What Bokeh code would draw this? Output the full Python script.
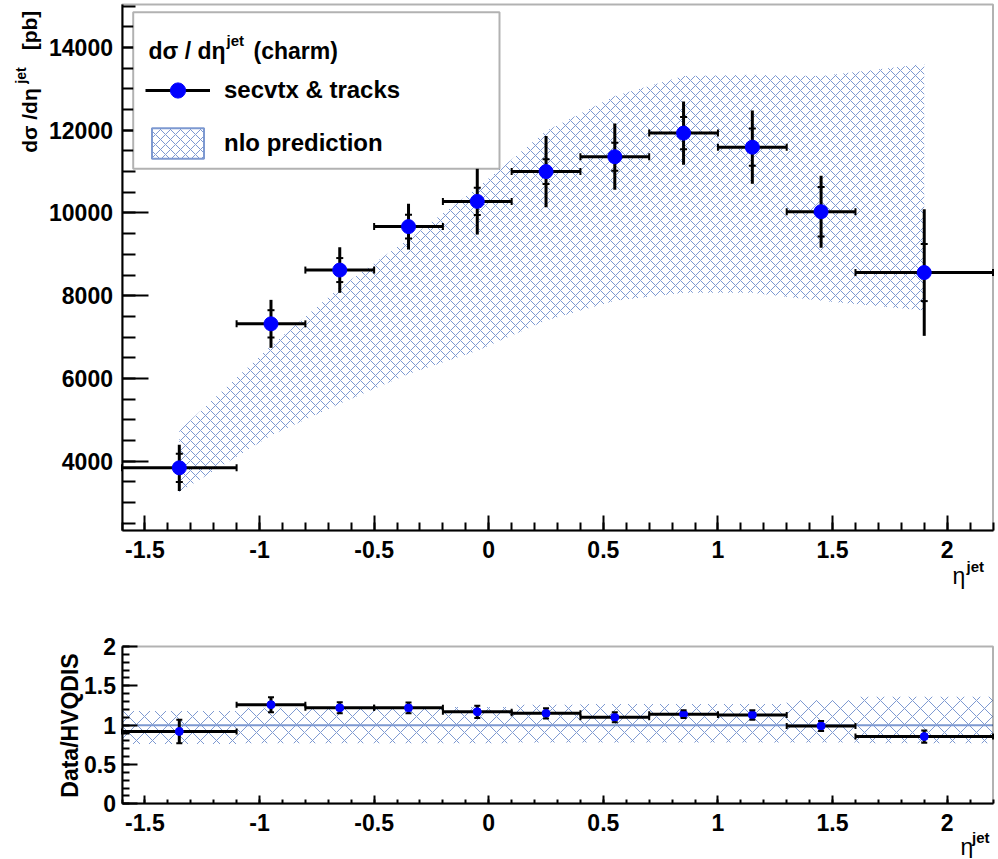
import math
from bokeh.plotting import figure
from bokeh.models import (Range1d, FixedTicker, CustomJSTickFormatter, Label, BoxAnnotation,
                          Legend, LegendItem, Whisker, TeeHead, ColumnDataSource)
from bokeh.layouts import column
from bokeh.embed import file_html
from bokeh.resources import INLINE

# ---------------- data ----------------
eta = [-1.35, -0.95, -0.65, -0.35, -0.05, 0.25, 0.55, 0.85, 1.15, 1.45, 1.9]
bin_lo = [-1.6, -1.1, -0.8, -0.5, -0.2, 0.1, 0.4, 0.7, 1.0, 1.3, 1.6]
bin_hi = [-1.1, -0.8, -0.5, -0.2, 0.1, 0.4, 0.7, 1.0, 1.3, 1.6, 2.2]
xsec = [3840, 7320, 8620, 9670, 10280, 11000, 11360, 11930, 11590, 10030, 8560]
err_tot = [560, 580, 550, 550, 800, 860, 800, 765, 885, 870, 1530]
err_stat = [340, 330, 290, 290, 330, 300, 340, 390, 450, 600, 690]
nlo_hi = [4740, 6790, 8200, 9370, 10610, 11980, 12830, 13310, 13340, 13310, 13600]
nlo_lo = [3250, 4620, 5390, 6110, 6670, 7400, 7880, 8070, 8070, 7880, 7640]

ratio = [0.92, 1.26, 1.22, 1.22, 1.17, 1.15, 1.10, 1.14, 1.13, 0.99, 0.855]
ratio_err = [0.15, 0.095, 0.07, 0.068, 0.078, 0.064, 0.064, 0.05, 0.06, 0.064, 0.078]
rband_hi = [1.18, 1.22, 1.22, 1.22, 1.23, 1.26, 1.27, 1.27, 1.27, 1.32, 1.36]
rband_lo = [0.76, 0.77, 0.77, 0.77, 0.77, 0.78, 0.78, 0.78, 0.78, 0.78, 0.77]
ratio_ref = 1.0

x_ticks = [-1.5, -1, -0.5, 0, 0.5, 1, 1.5, 2]
y_ticks = [4000, 6000, 8000, 10000, 12000, 14000]
r_ticks = [0, 0.5, 1, 1.5, 2]

# ---------------- geometry / style ----------------
FONT = "Liberation Sans"
BAND = "#7d99d1"
BLUE = "#0000ff"

W = 998
H1, H2 = 620, 238
XMIN, XMAX = -1.6, 2.2
FL, FR = 121.5, 992.5                  # ROOT frame left/right (page px)
Y1MIN, Y1MAX = 2325, 15039             # upper ROOT frame y range
U_TOP, U_BOT = 4, 530
RMIN, RMAX = 0, 2
L_TOP, L_BOT = 646, 803.3


def ux(px):
    return XMIN + (px - FL) * (XMAX - XMIN) / (FR - FL)


def uy(py):
    return Y1MAX - (py - U_TOP) * (Y1MAX - Y1MIN) / (U_BOT - U_TOP)


def ly(py):
    return RMAX - (py - L_TOP) * (RMAX - RMIN) / (L_BOT - L_TOP)


fmt = CustomJSTickFormatter(code="return String(Math.round(tick*1000)/1000);")


def style_axis(ax, ticks, minor, size, tin, min_in, standoff, loc, bounds):
    ax.fixed_location = loc
    ax.bounds = bounds
    ax.ticker = FixedTicker(ticks=ticks, minor_ticks=minor)
    ax.formatter = fmt
    ax.axis_line_width = 2
    ax.axis_line_color = "black"
    ax.major_tick_line_width = 2
    ax.minor_tick_line_width = 2
    ax.major_tick_in = tin
    ax.major_tick_out = 0
    ax.minor_tick_in = min_in
    ax.minor_tick_out = 0
    ax.major_label_text_font = FONT
    ax.major_label_text_font_style = "bold"
    ax.major_label_text_font_size = size
    ax.major_label_text_color = "black"
    ax.major_label_standoff = standoff


def add_label(p, x, y, text, size, bold=True, angle=0.0, align="left", baseline="alphabetic"):
    p.add_layout(Label(x=x, y=y, text=text, text_font=FONT,
                       text_font_style="bold" if bold else "normal",
                       text_font_size=size, angle=angle, text_align=align,
                       text_baseline=baseline, text_color="black"))


def make_fig(h, yr):
    p = figure(width=W, height=h, x_range=Range1d(ux(0), ux(W)), y_range=yr,
               output_backend="svg", toolbar_location=None, title=None,
               min_border=0, min_border_left=0, min_border_right=0,
               min_border_top=0, min_border_bottom=0)
    p.xgrid.visible = False
    p.ygrid.visible = False
    p.outline_line_color = None
    p.background_fill_color = "white"
    p.border_fill_color = "white"
    return p


x_minor = [round(-1.6 + 0.1 * i, 2) for i in range(39)]
y_minor = [2500 + 500 * i for i in range(26)]
r_minor = [round(0.1 * i, 2) for i in range(21)]

# ---------------- upper panel ----------------
p1 = make_fig(H1, Range1d(uy(H1), uy(0)))
style_axis(p1.xaxis[0], x_ticks, x_minor, "23px", 15, 8, 10, Y1MIN, (XMIN, XMAX))
style_axis(p1.yaxis[0], y_ticks, y_minor, "23px", 26, 13, 9, XMIN, (Y1MIN, Y1MAX))

src = ColumnDataSource(dict(
    eta=eta, lo=bin_lo, hi=bin_hi, y=xsec,
    ylo=[v - e for v, e in zip(xsec, err_tot)], yhi=[v + e for v, e in zip(xsec, err_tot)],
    slo=[v - e for v, e in zip(xsec, err_stat)], shi=[v + e for v, e in zip(xsec, err_stat)],
    nlo_lo=nlo_lo, nlo_hi=nlo_hi))

p1.varea(x="eta", y1="nlo_lo", y2="nlo_hi", source=src, fill_alpha=0,
         hatch_pattern="x", hatch_color=BAND, hatch_scale=10, hatch_weight=1)
hbar = p1.segment(x0="lo", x1="hi", y0="y", y1="y", source=src, line_color="black", line_width=3)
p1.segment(x0="eta", x1="eta", y0="ylo", y1="yhi", source=src, line_color="black", line_width=3)
p1.add_layout(Whisker(source=src, base="eta", lower="slo", upper="shi", dimension="height",
                      line_alpha=0, level="glyph",
                      upper_head=TeeHead(size=7, line_width=2, line_color="black"),
                      lower_head=TeeHead(size=7, line_width=2, line_color="black")))
p1.add_layout(Whisker(source=src, base="y", lower="lo", upper="hi", dimension="width",
                      line_alpha=0, level="glyph",
                      upper_head=TeeHead(size=7, line_width=2, line_color="black"),
                      lower_head=TeeHead(size=7, line_width=2, line_color="black")))
dots = p1.scatter(x="eta", y="y", source=src, size=14, fill_color=BLUE, line_color=BLUE)

# legend sample for the band (hidden renderer, only drawn in the legend)
band_leg = p1.quad(left="lo", right="hi", top="nlo_hi", bottom="nlo_lo", source=src,
                   fill_alpha=0, hatch_pattern="x", hatch_color=BAND, hatch_scale=10,
                   hatch_weight=1, line_color=BAND, line_width=2)
band_leg.visible = False

# ROOT frame box
p1.add_layout(BoxAnnotation(left=XMIN, right=XMAX, bottom=Y1MIN, top=Y1MAX,
                            fill_alpha=0, line_color="black", line_width=2, level="annotation"))
# legend box
p1.add_layout(BoxAnnotation(left=ux(132.7), right=ux(499), top=uy(11.7), bottom=uy(168.3),
                            fill_color="white", fill_alpha=1, line_color="black", line_width=2,
                            level="annotation"))
leg = Legend(items=[LegendItem(label="secvtx & tracks", renderers=[hbar, dots]),
                    LegendItem(label="nlo prediction", renderers=[band_leg])],
             location=(145, H1 - 162), glyph_width=65, glyph_height=38,
             label_standoff=14, spacing=15, padding=0, margin=0,
             border_line_alpha=0, background_fill_alpha=0, click_policy="none",
             inactive_fill_alpha=0,
             label_text_font=FONT, label_text_font_style="bold", label_text_font_size="24px",
             label_text_color="black")
p1.add_layout(leg, "center")

# legend header
add_label(p1, ux(148), uy(50), "dσ / dη", "23px")
add_label(p1, ux(226), uy(40), "jet", "15px")
add_label(p1, ux(253), uy(50), "(charm)", "23px")

# y title (rotated)
ROT = math.pi / 2
add_label(p1, ux(29), uy(120), "dσ /dη", "21px", angle=ROT, align="center", baseline="middle")
add_label(p1, ux(20), uy(75), "jet", "14px", angle=ROT, align="center", baseline="middle")
add_label(p1, ux(29), uy(30), "[pb]", "21px", angle=ROT, align="center", baseline="middle")
# x title
add_label(p1, ux(952), uy(575), "η", "23px", bold=False)
add_label(p1, ux(966), uy(566), "jet", "15px")

# ---------------- lower panel ----------------
p2 = make_fig(H2, Range1d(ly(H1 + H2), ly(H1)))
style_axis(p2.xaxis[0], x_ticks, x_minor, "23px", 8, 4, 10, RMIN, (XMIN, XMAX))
style_axis(p2.yaxis[0], r_ticks, r_minor, "23px", 15, 7, 6, XMIN, (RMIN, RMAX))

rsrc = ColumnDataSource(dict(
    eta=eta, lo=bin_lo, hi=bin_hi, r=ratio,
    rlo=[v - e for v, e in zip(ratio, ratio_err)], rhi=[v + e for v, e in zip(ratio, ratio_err)],
    blo=rband_lo, bhi=rband_hi))
edges = bin_lo + [bin_hi[-1]]
lsrc = ColumnDataSource(dict(x=edges, y=[ratio_ref] * len(edges)))

p2.quad(left="lo", right="hi", bottom="blo", top="bhi", source=rsrc, fill_alpha=0, line_alpha=0,
        hatch_pattern="x", hatch_color=BAND, hatch_scale=16, hatch_weight=1)
p2.line(x="x", y="y", source=lsrc, line_color=BAND, line_width=2)
p2.segment(x0="lo", x1="hi", y0="r", y1="r", source=rsrc, line_color="black", line_width=3)
p2.segment(x0="eta", x1="eta", y0="rlo", y1="rhi", source=rsrc, line_color="black", line_width=3)
p2.add_layout(Whisker(source=rsrc, base="eta", lower="rlo", upper="rhi", dimension="height",
                      line_alpha=0, level="glyph",
                      upper_head=TeeHead(size=6, line_width=2, line_color="black"),
                      lower_head=TeeHead(size=6, line_width=2, line_color="black")))
p2.add_layout(Whisker(source=rsrc, base="r", lower="lo", upper="hi", dimension="width",
                      line_alpha=0, level="glyph",
                      upper_head=TeeHead(size=6, line_width=2, line_color="black"),
                      lower_head=TeeHead(size=6, line_width=2, line_color="black")))
p2.scatter(x="eta", y="r", source=rsrc, size=8, fill_color=BLUE, line_color=BLUE)

p2.add_layout(BoxAnnotation(left=XMIN, right=XMAX, bottom=RMIN, top=RMAX,
                            fill_alpha=0, line_color="black", line_width=2, level="annotation"))

add_label(p2, ux(69), ly(725), "Data/HVQDIS", "23px", angle=ROT, align="center", baseline="middle")
add_label(p2, ux(960), ly(846), "η", "23px", bold=False)
add_label(p2, ux(971.5), ly(837), "jet", "15px")

layout = column(p1, p2, spacing=0)
open("out.html", "w").write(file_html(layout, INLINE))
